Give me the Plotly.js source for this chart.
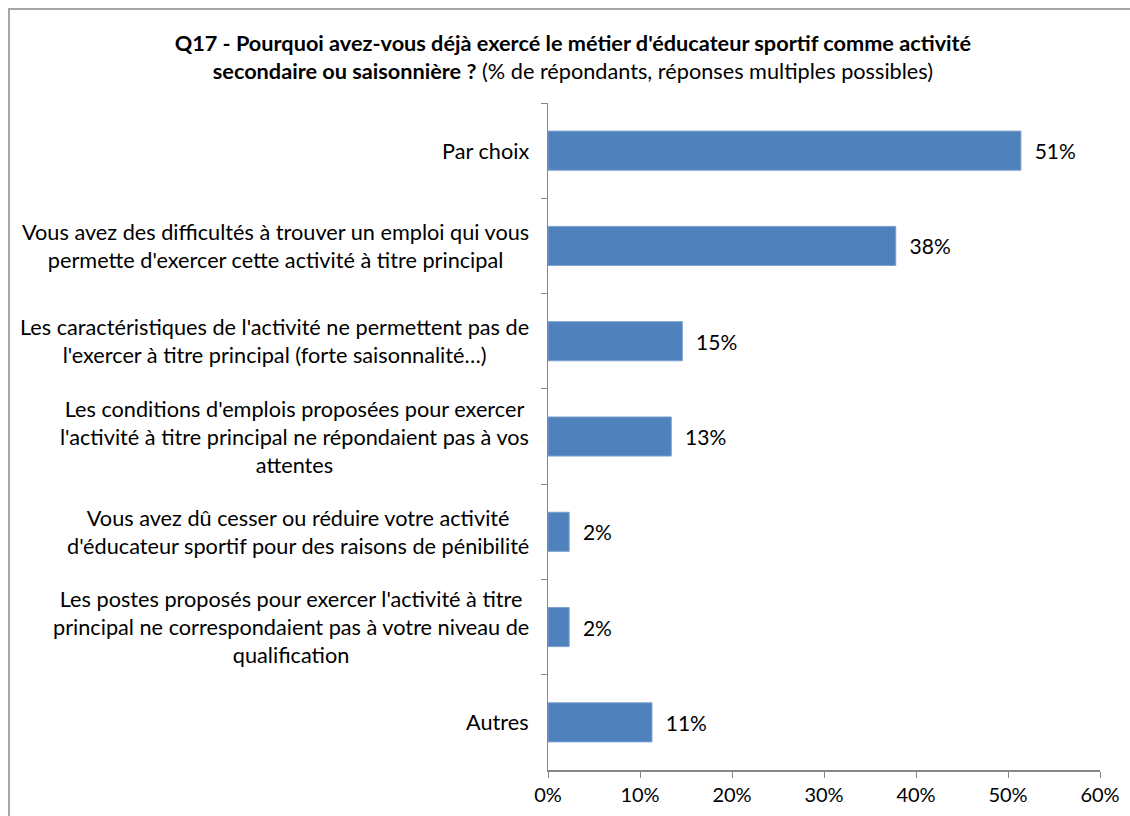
<!DOCTYPE html>
<html>
<head>
<meta charset="utf-8">
<script src="https://cdn.plot.ly/plotly-3.0.1.min.js"></script>
<style>
html,body{margin:0;padding:0;background:#fff;}
#wrap{position:relative;width:1130px;height:816px;overflow:hidden;}
#chart{position:absolute;left:0;top:0;width:1130px;height:816px;}
#frame{position:absolute;left:8px;top:8px;width:1140px;height:830px;border:2px solid #a6a6a6;pointer-events:none;box-sizing:border-box;}
</style>
</head>
<body>
<div id="wrap"><div id="chart"></div><div id="frame"></div></div>
<script>
const categories = [
  "Par choix",
  "Vous avez des difficultés à trouver un emploi qui vous<br>permette d'exercer cette activité à titre principal",
  "Les caractéristiques de l'activité ne permettent pas de<br>l'exercer à titre principal (forte saisonnalité…)",
  "Les conditions d'emplois proposées pour exercer<br>l'activité à titre principal ne répondaient pas à vos<br>attentes",
  "Vous avez dû cesser ou réduire votre activité<br>d'éducateur sportif pour des raisons de pénibilité",
  "Les postes proposés pour exercer l'activité à titre<br>principal ne correspondaient pas à votre niveau de<br>qualification",
  "Autres"
];
const values = [51.4, 37.8, 14.6, 13.4, 2.3, 2.3, 11.3];
const valueLabels = ["51%", "38%", "15%", "13%", "2%", "2%", "11%"];
const xTickVals = [0, 10, 20, 30, 40, 50, 60];
const xTickText = ["0%", "10%", "20%", "30%", "40%", "50%", "60%"];

const FONT = "Lato, 'Open Sans', sans-serif";
const ids = categories.map((c, i) => "c" + i);

const trace = {
  type: "bar",
  orientation: "h",
  y: ids,
  x: values,
  text: valueLabels.map(t => "  " + t),
  textposition: "outside",
  cliponaxis: false,
  textfont: {family: FONT, size: 21, color: "#000"},
  marker: {color: "#4F81BD", line: {color: "#7BA0CD", width: 1}},
  hoverinfo: "none"
};

const annotations = categories.map((c, i) => ({
  x: 0, xref: "paper", xanchor: "right", xshift: -17,
  y: ids[i], yref: "y", yanchor: "middle",
  text: c, align: "center", showarrow: false,
  font: {family: FONT, size: 21.7, color: "#000"}
}));

const layout = {
  width: 1130, height: 816,
  margin: {l: 548, r: 30, t: 103, b: 46},
  paper_bgcolor: "#fff", plot_bgcolor: "#fff",
  showlegend: false,
  bargap: 0.59,
  title: {
    text: "<b>Q17 - Pourquoi avez-vous déjà exercé le métier d'éducateur sportif comme activité<br>secondaire ou saisonnière ?</b> (% de répondants, réponses multiples possibles)",
    x: 0.507, xanchor: "center", y: 0.938, yanchor: "middle",
    font: {family: FONT, size: 21.7, color: "#000"}
  },
  xaxis: {
    range: [0, 60], tickvals: xTickVals, ticktext: xTickText,
    showgrid: false, zeroline: false,
    showline: true, linecolor: "#868686", linewidth: 1.5,
    ticks: "outside", ticklen: 6, tickcolor: "#868686",
    tickfont: {family: FONT, size: 20, color: "#000"},
    fixedrange: true
  },
  yaxis: {
    type: "category", categoryorder: "array", categoryarray: ids,
    range: [6.5, -0.5],
    showticklabels: false, showgrid: false, zeroline: false,
    showline: true, linecolor: "#868686", linewidth: 1.5,
    ticks: "outside", ticklen: 6, tickcolor: "#868686", tickson: "boundaries",
    fixedrange: true
  },
  annotations: annotations
};

Plotly.newPlot("chart", [trace], layout, {displayModeBar: false, staticPlot: true});
</script>
</body>
</html>
